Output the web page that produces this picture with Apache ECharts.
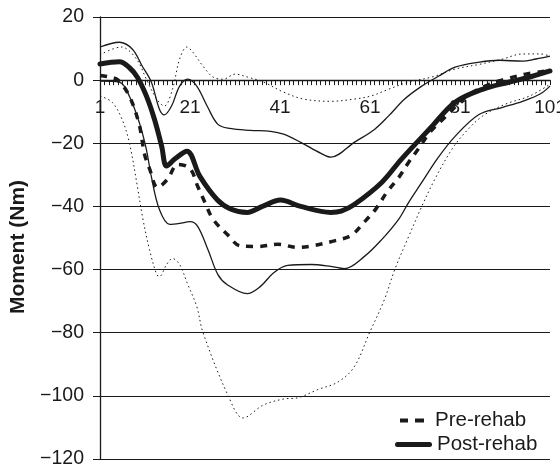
<!DOCTYPE html>
<html>
<head>
<meta charset="utf-8">
<script src="https://cdn.jsdelivr.net/npm/echarts@6/dist/echarts.min.js"></script>
<style>
html,body{margin:0;padding:0;background:#fff;}
#chart{width:560px;height:469px;}
</style>
</head>
<body>
<div id="chart"></div>
<script>
// Gait cycle (%) points 1..101, moment (Nm)
const preMean = [[1,1.5],[3,1],[5,0],[7.5,-5],[9.7,-14],[10.9,-23.5],[12,-28],[13.8,-34],[16,-31.4],[18.3,-26.7],[21,-28],[22.7,-33.6],[24.3,-38.7],[26.1,-44],[29.3,-48.9],[32.2,-52.5],[36.2,-52.7],[40.5,-52],[45,-53],[48.5,-52.4],[52.8,-51],[56.8,-49.2],[59.7,-45],[62.4,-40.6],[64.7,-35.6],[67.4,-30.8],[69.6,-26],[71.9,-21.5],[74.3,-16.5],[77.7,-11.7],[82.6,-5],[87.5,-1.3],[91.1,0.3],[95.6,1.9],[101,3]];
const postMean = [[1,5.1],[5.3,5.8],[7.5,4],[9.3,0.9],[11.3,-5],[13.1,-12.4],[14.7,-20.9],[15.8,-27.2],[17.6,-25],[20.3,-22.5],[23.2,-30.5],[27,-37.8],[30,-40.8],[33.7,-41.9],[37.1,-40],[41.1,-38],[45.6,-40],[52.3,-41.9],[54.6,-41.5],[57.5,-39.4],[63.6,-32.4],[68,-25],[74.8,-14.6],[79.9,-7],[86,-2.9],[92,-0.6],[96.5,1],[101,2.9]];
const postUpper = [[1,10.5],[5.3,12],[8.2,9.8],[10.4,4.4],[12.4,-0.6],[14.2,-9.2],[15.3,-11],[16.9,-8.2],[18.7,-1.9],[20.5,0.3],[22.5,-1.9],[24.8,-8.2],[27.2,-14],[29.9,-15.3],[34.4,-15.9],[38.9,-16.2],[41.8,-17.1],[45.6,-19.7],[50.1,-23.2],[52.3,-24.4],[57.5,-19.7],[62,-15.6],[65.1,-11.4],[68.7,-6],[72.5,-1.9],[76.3,1.3],[79.9,4.1],[85.3,5.7],[89.8,6.3],[94.9,6],[97.9,6.7],[101,7.6]];
const postLower = [[1,-0.3],[5.3,-0.6],[7.5,-5],[9.7,-13.3],[11.3,-21.9],[12.4,-30.5],[14.2,-41],[16.5,-45.7],[18.7,-45.4],[21,-44.8],[22.7,-46.3],[25,-53.7],[27.2,-61.6],[29.3,-64.8],[33.7,-67.6],[36.6,-65.4],[39.6,-61],[42.7,-58.7],[47.9,-58.4],[52.3,-59],[55.3,-59.7],[59.7,-55.9],[63.6,-50.5],[67.4,-44],[69.6,-38.7],[72.5,-32.4],[75.9,-25],[79.9,-17.8],[85.3,-10.8],[90.5,-8.6],[94.9,-6.7],[98.8,-4.4],[101,-1.9]];
const preUpper = [[1,8],[5.7,10.5],[9.1,6.7],[11.3,0.3],[13.6,-6],[15.3,-8.2],[17.1,-2.9],[18.7,6.7],[20.3,10.5],[21.6,8.9],[23.9,4.4],[26.1,1],[28.4,0.3],[31,1.9],[33.7,1],[37.3,-0.6],[41.8,-3.8],[46.3,-6],[52.3,-6.7],[57.5,-6],[61.3,-5],[65.1,-2.9],[69.6,-0.6],[74.8,1],[79.9,3.5],[85.3,5],[90.5,6.7],[94.9,8.3],[98.8,8.3],[101,7.6]];
const preLower = [[1,-5],[3.7,-7],[5.9,-12.4],[7.5,-19.7],[9.3,-33.6],[10.4,-43],[12,-53.7],[13.6,-61.6],[14.2,-62.2],[15.8,-58.4],[17.1,-56.5],[18.7,-58.4],[20.3,-64],[22.5,-71.7],[23.9,-80],[29.5,-100],[32.8,-107],[37.3,-102.9],[41.8,-101],[45,-100.6],[49.4,-98],[53.9,-95.6],[57.5,-90.8],[60.9,-80],[64.2,-69.5],[66.5,-60],[69.6,-49.5],[72.5,-40],[75.4,-31.4],[79.2,-21.9],[82.2,-16.5],[86,-11.4],[91.1,-7.6],[96.5,-5],[101,-1.3]];
const seriesNames = ['Pre-rehab','Post-rehab'];
const yAxisTitle = 'Moment (Nm)';
const Y_MIN = -120, Y_MAX = 20;

const shift = arr => arr.map(p => [p[0]-1, p[1]]);
const FONT = '"Liberation Sans", Arial, Helvetica, sans-serif';
const INK = '#1a1a1a';
const GRID = {left:100, right:10, top:17, bottom:10};
const gridH = 469 - GRID.top - GRID.bottom;
const zeroOffset = -gridH * (Y_MAX - 0) / (Y_MAX - Y_MIN);

const chart = echarts.init(document.getElementById('chart'), null, {renderer:'canvas'});
chart.setOption({
  animation:false,
  backgroundColor:'#fff',
  grid:Object.assign({containLabel:false, outerBoundsMode:'none'}, GRID),
  legend:[
    {
      data:[{name:seriesNames[0], icon:'path://M0,0H8V4H0Z M15,0H24V4H15Z'}],
      left:400, top:410, padding:0,
      itemWidth:24, itemHeight:4,
      textStyle:{fontFamily:FONT,fontSize:20.5,color:INK,padding:[0,0,0,6]}
    },
    {
      data:[{name:seriesNames[1], icon:'path://M2.5,0H34.5A2.5,2.5,0,0,1,34.5,5H2.5A2.5,2.5,0,0,1,2.5,0Z'}],
      left:395, top:434, padding:0,
      itemWidth:37, itemHeight:5,
      textStyle:{fontFamily:FONT,fontSize:20.5,color:INK}
    }
  ],
  xAxis:{
    type:'value', min:0, max:100, interval:20,
    position:'top', offset:zeroOffset,
    axisLine:{onZero:false,lineStyle:{color:INK,width:1.3}},
    axisTick:{show:true,inside:true,length:5,lineStyle:{color:INK,width:1}},
    minorTick:{show:true,splitNumber:20,length:5,lineStyle:{color:INK,width:1}},
    axisLabel:{inside:true,formatter:v=>String(v+1),fontFamily:FONT,fontSize:19,color:INK,margin:18},
    splitLine:{show:false}
  },
  yAxis:{
    type:'value', min:Y_MIN, max:Y_MAX, interval:20,
    name:yAxisTitle, nameLocation:'middle', nameGap:65,
    nameTextStyle:{fontFamily:FONT,fontSize:21,fontWeight:'bold',color:INK,padding:[0,18,0,0]},
    axisLine:{show:true,onZero:false,lineStyle:{color:INK,width:1.3}},
    axisTick:{show:true,length:7,lineStyle:{color:INK,width:1}},
    axisLabel:{formatter:v=>String(v).replace('-','\u2212'),fontFamily:FONT,fontSize:19.5,color:INK,margin:16},
    splitLine:{show:true,lineStyle:{color:INK,width:1.1}}
  },
  series:[
    {name:'preUpper',type:'line',data:shift(preUpper),showSymbol:false,symbol:'none',smooth:0.35,lineStyle:{color:INK,width:1,type:[1.5,3]},z:2},
    {name:'preLower',type:'line',data:shift(preLower),showSymbol:false,symbol:'none',smooth:0.35,lineStyle:{color:INK,width:1,type:[1.5,3]},z:2},
    {name:'postUpper',type:'line',data:shift(postUpper),showSymbol:false,symbol:'none',smooth:0.35,lineStyle:{color:INK,width:1.3},z:3},
    {name:'postLower',type:'line',data:shift(postLower),showSymbol:false,symbol:'none',smooth:0.35,lineStyle:{color:INK,width:1.3},z:3},
    {name:seriesNames[0],type:'line',data:shift(preMean),showSymbol:false,symbol:'none',smooth:0.35,itemStyle:{color:INK},lineStyle:{color:INK,width:3.5,type:[7,7]},z:4},
    {name:seriesNames[1],type:'line',data:shift(postMean),showSymbol:false,symbol:'none',smooth:0.35,itemStyle:{color:INK},lineStyle:{color:INK,width:5,cap:'round'},z:5}
  ]
});
</script>
</body>
</html>
